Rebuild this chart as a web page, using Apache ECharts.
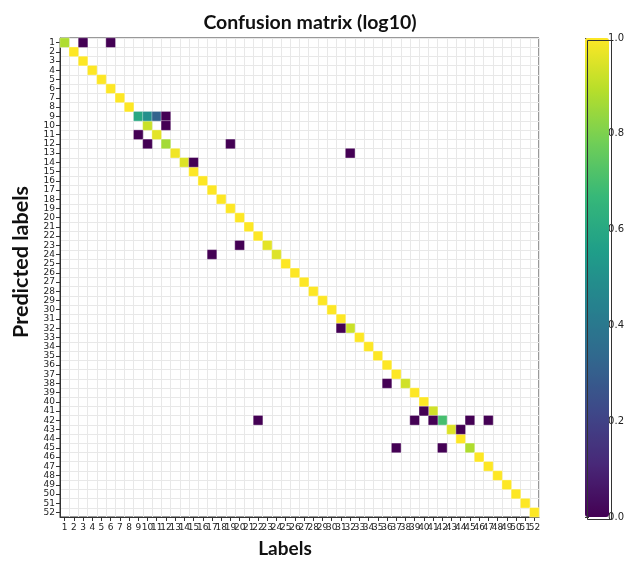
<!DOCTYPE html>
<html>
<head>
<meta charset="utf-8">
<script src="https://cdn.jsdelivr.net/npm/echarts@6/dist/echarts.min.js"></script>
<style>
  html, body { margin: 0; padding: 0; background: #fff; }
  #chart { width: 627px; height: 561px; }
</style>
</head>
<body>
<div id="chart"></div>
<script>
// class labels 1..52 (same on both axes)
const labels = ['1','2','3','4','5','6','7','8','9','10','11','12','13','14','15','16','17','18','19','20',
  '21','22','23','24','25','26','27','28','29','30','31','32','33','34','35','36','37','38','39','40',
  '41','42','43','44','45','46','47','48','49','50','51','52'];

// diagonal (correct predictions), log10 scaled, row i = label i
const diagValues = [0.88, 1, 1, 1, 1, 1, 1, 1, 0.6, 0.92,
  0.96, 0.86, 0.98, 0.95, 1, 1, 1, 1, 1, 1,
  1, 1, 0.96, 0.95, 1, 1, 1, 1, 1, 1,
  1, 0.92, 1, 1, 1, 1, 1, 0.93, 1, 1,
  0.93, 0.70, 0.95, 1, 0.88, 1, 1, 1, 1, 1,
  1, 1];

// off-diagonal confusions
const offRows   = [1, 1, 9, 9, 9, 10, 11, 12, 12, 13, 14, 23, 24, 32, 38, 41, 42, 42, 42, 42, 42, 43, 45, 45];
const offCols   = [3, 6, 10, 11, 12, 12, 9, 10, 19, 32, 15, 20, 17, 31, 36, 40, 22, 39, 41, 45, 47, 44, 37, 42];
const offValues = [0, 0, 0.5, 0.32, 0, 0, 0, 0, 0, 0, 0, 0, 0, 0, 0, 0, 0, 0, 0, 0, 0, 0, 0, 0];

const colorbarTicks = [0, 0.2, 0.4, 0.6, 0.8, 1.0];

const viridis = ['#440154', '#482878', '#3e4989', '#31688e', '#26828e',
  '#1f9e89', '#35b779', '#6ece58', '#b5de2b', '#fde725'];

const cells = [];
diagValues.forEach((v, i) => cells.push([i, i, v]));
offRows.forEach((r, i) => cells.push([offCols[i] - 1, r - 1, offValues[i]]));

const chart = echarts.init(document.getElementById('chart'));

const tickFont = { fontFamily: 'DejaVu Sans', fontSize: 9, color: '#222' };

chart.setOption({
  animation: false,
  title: {
    text: 'Confusion matrix (log10)',
    left: 305, top: 8, textAlign: 'center',
    textStyle: { fontFamily: 'Lato', fontWeight: 'bold', fontSize: 19.5, color: '#111' }
  },
  grid: [
    { left: 60, top: 38, width: 479, height: 479, show: true, borderColor: '#333', borderWidth: 1, backgroundColor: '#fff' },
    { left: 585, top: 38, width: 24, height: 479 }
  ],
  xAxis: [
    {
      type: 'category', gridIndex: 0, data: labels, position: 'bottom',
      axisLine: { show: true, lineStyle: { color: '#333' } },
      axisTick: { show: true, alignWithLabel: true, interval: 0, length: 4, lineStyle: { color: '#333' } },
      axisLabel: Object.assign({ interval: 0, margin: 6 }, tickFont),
      splitLine: { show: true, interval: 0, lineStyle: { color: '#e8e8e8', width: 1 } }
    },
    { type: 'value', gridIndex: 1, show: false }
  ],
  yAxis: [
    {
      type: 'category', gridIndex: 0, data: labels, inverse: true,
      axisLine: { show: true, lineStyle: { color: '#333' } },
      axisTick: { show: true, alignWithLabel: true, interval: 0, length: 4, lineStyle: { color: '#333' } },
      axisLabel: Object.assign({ interval: 0, margin: 5 }, tickFont),
      splitLine: { show: true, interval: 0, lineStyle: { color: '#e8e8e8', width: 1 } }
    },
    {
      type: 'value', gridIndex: 1, position: 'right', min: 0, max: 1, interval: 0.2,
      axisLine: { show: false },
      axisTick: { show: true, length: 4, lineStyle: { color: '#333' } },
      axisLabel: Object.assign({}, tickFont, { margin: 3, fontSize: 10, formatter: v => v.toFixed(1) }),
      splitLine: { show: false }
    }
  ],
  visualMap: {
    type: 'continuous', min: 0, max: 1, seriesIndex: 0,
    left: 585, top: 38, itemWidth: 24, itemHeight: 479, padding: 0,
    calculable: false, text: ['', ''], showLabel: false,
    inRange: { color: viridis }
  },
  graphic: [
    { type: 'rect', left: 585, top: 38, shape: { width: 24, height: 479 }, z: 100,
      style: { fill: 'none', stroke: '#333', lineWidth: 1 } },
    { type: 'text', x: 285, y: 549, z: 100,
      style: { text: 'Labels', fontFamily: 'Lato', fontWeight: 'bold', fontSize: 19, fill: '#111',
        align: 'center', verticalAlign: 'middle' } },
    { type: 'text', x: 21, y: 262, rotation: Math.PI / 2, z: 100,
      style: { text: 'Predicted labels', fontFamily: 'Lato', fontWeight: 'bold', fontSize: 21.5, fill: '#111',
        align: 'center', verticalAlign: 'middle' } }
  ],
  series: [{
    type: 'heatmap', xAxisIndex: 0, yAxisIndex: 0, data: cells,
    itemStyle: { borderColor: 'rgba(255,255,255,0.6)', borderWidth: 0.6 },
    emphasis: { disabled: true }
  }]
});
</script>
</body>
</html>
